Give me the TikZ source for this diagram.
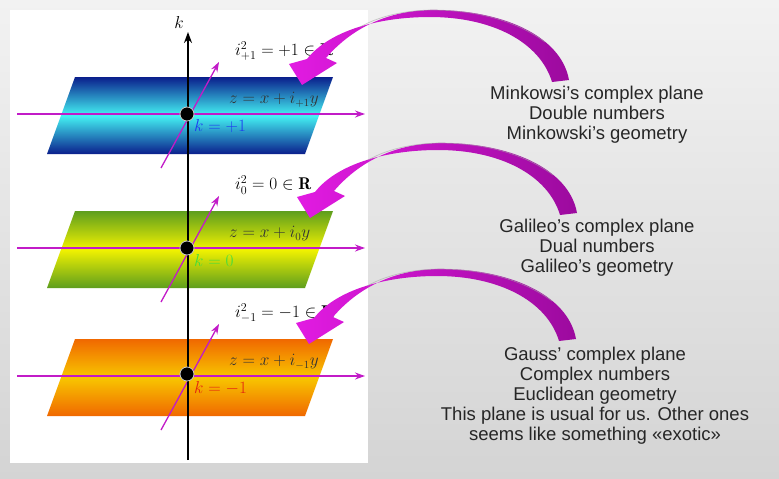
\documentclass[tikz,border=0pt]{standalone}
\usepackage{fontspec}
\usepackage{amsmath}
\usetikzlibrary{arrows.meta}
\newfontfamily\capfont{Liberation Sans}
\definecolor{axmag}{HTML}{C21BC8}
\definecolor{amag}{HTML}{E21BE2}
\definecolor{apurp}{HTML}{9C0A9E}
\definecolor{bgtop}{HTML}{F2F2F2}
\definecolor{bgbot}{HTML}{D4D4D4}
\definecolor{ptopa}{HTML}{0A1E8C}
\definecolor{pmida}{HTML}{44F4F4}
\definecolor{ptopb}{HTML}{5E9E1E}
\definecolor{pmidb}{HTML}{F2F200}
\definecolor{ptopc}{HTML}{F06800}
\definecolor{pmidc}{HTML}{F8C600}
\definecolor{kcola}{HTML}{1E3CF0}
\definecolor{kcolb}{HTML}{44DC3C}
\definecolor{kcolc}{HTML}{E42410}
\tikzset{
  bendarrow/.pic={
    \shade[left color=amag,right color=apurp]
      (569,80) .. controls (561,35) and (500,9) .. (430,10)
      .. controls (385,11) and (350,30) .. (326,58)
      -- (337,63) -- (302,85) -- (289,64) -- (307,59)
      .. controls (330,30) and (380,17) .. (430,17)
      .. controls (492,17) and (540,42) .. (552,82) -- cycle;
    \draw[gray!70,line width=0.7pt,draw opacity=0.6]
      (545,42) .. controls (515,20) and (475,10) .. (430,10)
      .. controls (400,11) and (378,17) .. (360,27);
  }
}
\begin{document}
\begin{tikzpicture}[x=1pt,y=-1pt,>=Stealth,
  planeline/.style={axmag,line width=1.3pt,-{Stealth[length=10pt,width=7pt]}},
  origin/.style={circle,fill=black,draw=gray!40,line width=0.8pt,minimum size=14pt,inner sep=0pt},
  mathlab/.style={anchor=west,inner sep=0pt,font=\fontsize{16}{18}\selectfont},
  txt/.style={align=center,text=black!85,font=\capfont\fontsize{18.5}{20}\selectfont}]
\useasboundingbox (0,0) rectangle (779,479);
% background and white panel
\shade[top color=bgtop,bottom color=bgbot] (0,0) rectangle (779,479);
\fill[white] (10,10) rectangle (368,463);
% the three planes
\foreach \ly/\pt/\pm/\kc/\sub [count=\i] in
    {114/ptopa/pmida/kcola/+1, 248/ptopb/pmidb/kcolb/0, 376/ptopc/pmidc/kcolc/-1}{
  \shade[top color=\pt,bottom color=\pt,middle color=\pm]
    (75,\ly-37) -- (333,\ly-37) -- (305,\ly+40) -- (47,\ly+40) -- cycle;
  \coordinate (xl\i) at (17,\ly);
  \coordinate (xr\i) at (365,\ly);
  \coordinate (yl\i) at (161,\ly+54);
  \coordinate (yr\i) at (219,\ly-52);
  \draw[planeline] (xl\i) -- (xr\i);
  \draw[planeline] (yl\i) -- (yr\i);
  \node[mathlab,text=\kc,font=\fontsize{18}{20}\selectfont] (kval\i) at (194,\ly+12) {$k=\sub$};
  \node[mathlab,text=black!80] (zval\i) at (229,\ly-14) {$z=x+i_{\sub}y$};
  \node[mathlab,font=\fontsize{17}{19}\selectfont] (isq\i) at (235,\ly-63) {$i_{\sub}^2=\sub\in\mathbf{R}$};
}
% k axis
\coordinate (kbot) at (188,460);
\coordinate (ktop) at (188,32);
\draw[line width=1.6pt,-{Stealth[length=11pt,width=8pt]}] (kbot) -- (ktop);
\node[font=\fontsize{19}{21}\selectfont] (klab) at (179,22) {$k$};
\foreach \ly [count=\i] in {114,248,374}
  \node[origin] (dot\i) at (187,\ly) {};
% bent arrows
\pic at (0,0) {bendarrow};
\pic at (8,133) {bendarrow};
\pic at (7,259) {bendarrow};
% captions
\node[txt] (mink) at (597,115) {Minkowsi’s complex plane\\Double numbers\\Minkowski’s geometry};
\node[txt] (gal) at (597,248) {Galileo’s complex plane\\Dual numbers\\Galileo’s geometry};
\node[txt] (gauss) at (595,396) {Gauss’ complex plane\\Complex numbers\\Euclidean geometry\\This plane is usual for us. Other ones\\seems like something «exotic»};
\end{tikzpicture}
\end{document}
